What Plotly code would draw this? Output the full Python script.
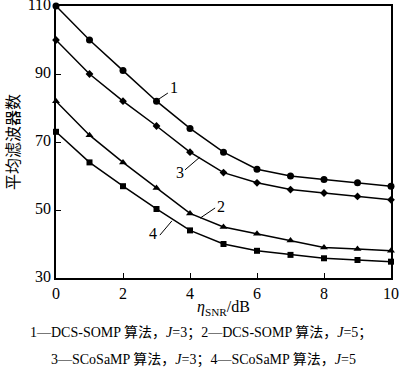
import plotly.graph_objects as go

snr = [0, 1, 2, 3, 4, 5, 6, 7, 8, 9, 10]
s1_somp_j3 = [110, 100, 91, 82, 74, 67, 62, 60, 59, 58, 57]
s2_somp_j5 = [82, 72, 64, 56.5, 49, 45, 43, 41, 39, 38.5, 38]
s3_cosamp_j3 = [100, 90, 82, 74.7, 67, 61, 58, 56, 55, 54, 53]
s4_cosamp_j5 = [73, 64, 57, 50.3, 44, 40, 38, 36.8, 35.8, 35.3, 34.8]

yticks = [30, 50, 70, 90, 110]
xticks = [0, 2, 4, 6, 8, 10]

SERIF = "Liberation Serif, Times New Roman, serif"
CJK = "Noto Sans CJK SC"

fig = go.Figure()
series = [
    (s1_somp_j3, "circle", 7),
    (s3_cosamp_j3, "diamond", 6),
    (s2_somp_j5, "triangle-up", 7),
    (s4_cosamp_j5, "square", 6),
]
for ys, sym, sz in series:
    fig.add_trace(go.Scatter(
        x=snr, y=ys, mode="lines+markers",
        line=dict(color="black", width=1.5),
        marker=dict(symbol=sym, size=sz, color="black"),
        showlegend=False, cliponaxis=False,
    ))

# leader lines and curve labels
labels = [
    ("1", (2.99, 82.1), (3.34, 84.4), (3.52, 86.0)),
    ("3", (3.85, 61.8), (4.30, 65.6), (3.70, 61.0)),
    ("2", (4.30, 47.6), (4.75, 50.6), (4.92, 51.0)),
    ("4", (3.10, 42.6), (3.46, 46.8), (2.90, 43.0)),
]
for txt, p0, p1, pt in labels:
    fig.add_shape(type="line", x0=p0[0], y0=p0[1], x1=p1[0], y1=p1[1],
                  line=dict(color="black", width=1))
    fig.add_annotation(x=pt[0], y=pt[1], text=txt, showarrow=False,
                       font=dict(family=SERIF, size=16, color="black"))

axis_common = dict(
    showline=True, linecolor="black", linewidth=1.5, mirror=True,
    ticks="inside", ticklen=5, tickcolor="black", tickwidth=1,
    showgrid=False, zeroline=False, automargin=False,
    ticklabeloverflow="allow",
    tickfont=dict(family=SERIF, size=16, color="black"),
)

fig.update_xaxes(range=[0, 10], tickvals=xticks, **axis_common,
                 title=dict(text="<i>η</i><sub>SNR</sub>/dB",
                            font=dict(family=SERIF, size=16, color="black"),
                            standoff=0))
fig.update_yaxes(range=[30, 110], tickvals=yticks, **axis_common,
                 ticklabelshift=-2,
                 title=dict(text="平均滤波器数",
                            font=dict(family=CJK, size=16, color="black"),
                            standoff=9))

cj = "<span style='font-family:Noto Sans CJK SC'>{}</span>"
cap1 = ("1—DCS-SOMP " + cj.format("算法，") + "<i>J</i>=3" + cj.format("；")
        + "2—DCS-SOMP " + cj.format("算法，") + "<i>J</i>=5" + cj.format("；"))
cap2 = ("3—SCoSaMP " + cj.format("算法，") + "<i>J</i>=3" + cj.format("；")
        + "4—SCoSaMP " + cj.format("算法，") + "<i>J</i>=5")
fig.add_annotation(xref="paper", yref="paper", x=0.433, y=-0.195, text=cap1,
                   showarrow=False, font=dict(family=SERIF, size=14, color="black"),
                   yanchor="middle")
fig.add_annotation(xref="paper", yref="paper", x=0.44, y=-0.294, text=cap2,
                   showarrow=False, font=dict(family=SERIF, size=14, color="black"),
                   yanchor="middle")

fig.update_layout(
    width=400, height=370,
    margin=dict(l=56, r=9, t=6, b=92, autoexpand=False),
    paper_bgcolor="white", plot_bgcolor="white",
)

fig.write_html("out.html", config={"displayModeBar": False},
               post_script="document.body.style.margin='0';document.body.style.padding='0';")
